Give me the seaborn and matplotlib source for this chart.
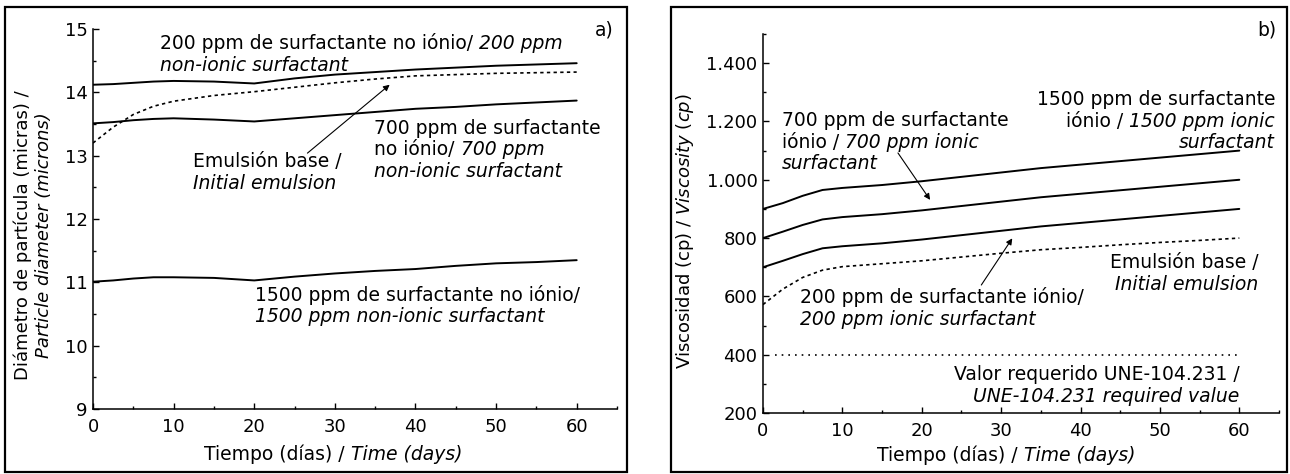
import matplotlib
matplotlib.use("Agg")
import matplotlib.pyplot as plt
import seaborn as sns
import pandas as pd
from matplotlib.patches import Rectangle
from matplotlib.ticker import MultipleLocator, FuncFormatter

# datos
dias = [0, 2.5, 5, 7.5, 10, 15, 20, 25, 30, 35, 40, 45, 50, 55, 60]

diam_200 = [14.12, 14.13, 14.15, 14.17, 14.18, 14.17, 14.14, 14.22, 14.28, 14.32, 14.36, 14.39, 14.42, 14.44, 14.46]
diam_base = [13.20, 13.45, 13.65, 13.78, 13.86, 13.95, 14.01, 14.08, 14.15, 14.21, 14.26, 14.28, 14.30, 14.31, 14.32]
diam_700 = [13.51, 13.53, 13.56, 13.58, 13.59, 13.57, 13.54, 13.59, 13.64, 13.69, 13.74, 13.77, 13.81, 13.84, 13.87]
diam_1500 = [11.01, 11.03, 11.06, 11.08, 11.08, 11.07, 11.03, 11.09, 11.14, 11.18, 11.21, 11.26, 11.30, 11.32, 11.35]

visc_1500 = [900, 920, 945, 965, 972, 982, 995, 1010, 1025, 1040, 1052, 1064, 1076, 1088, 1100]
visc_700 = [800, 822, 845, 864, 872, 882, 895, 910, 925, 940, 952, 964, 976, 988, 1000]
visc_200 = [700, 722, 745, 765, 772, 782, 795, 810, 825, 840, 852, 864, 876, 888, 900]
visc_base = [572, 625, 665, 690, 702, 712, 722, 735, 748, 760, 768, 777, 785, 792, 800]
req_dias = [1.5, 60]
req_visc = [400, 400]

FS = 13.5
FS_TICK = 13
LINE_PT = 15.6
GAP = 4.3

sns.set_style("ticks")
plt.rcParams["font.family"] = ["DejaVu Sans"]
plt.rcParams["font.size"] = FS
plt.rcParams["text.color"] = "k"
plt.rcParams["axes.labelcolor"] = "k"

fig = plt.figure(figsize=(12.9, 4.74), dpi=100)
W, H = 1290, 474


def px_rect(x0, y0, x1, y1):
    return [x0 / W, (H - y1) / H, (x1 - x0) / W, (y1 - y0) / H]


ax1 = fig.add_axes(px_rect(93, 29, 617, 409))
ax2 = fig.add_axes(px_rect(763, 34, 1279, 413))


def linea(ax, x, y, ls="-", lw=1.4):
    sns.lineplot(x=x, y=y, ax=ax, color="k", lw=lw, linestyle=ls)


def rich(ax, x, y, lines, right=False, coords="data"):
    for i, parts in enumerate(lines):
        seq = parts[::-1] if right else parts
        prev = None
        for txt, it in seq:
            st = "italic" if it else "normal"
            if prev is None:
                prev = ax.annotate(txt, xy=(x, y), xycoords=coords,
                                   xytext=(0, -i * LINE_PT),
                                   textcoords="offset points",
                                   ha="right" if right else "left",
                                   va="baseline", fontstyle=st, fontsize=FS,
                                   color="k", annotation_clip=False)
            else:
                prev = ax.annotate(txt, xy=(0 if right else 1, 0), xycoords=prev,
                                   xytext=(-GAP if right else GAP, 0),
                                   textcoords="offset points",
                                   ha="right" if right else "left",
                                   va="bottom", fontstyle=st, fontsize=FS,
                                   color="k", annotation_clip=False)


def flecha(ax, tail, head):
    ax.annotate("", xy=head, xytext=tail,
                arrowprops=dict(arrowstyle="-|>", color="k", lw=0.8,
                                mutation_scale=9, shrinkA=0, shrinkB=0))


# a) diametro
linea(ax1, dias, diam_200)
linea(ax1, dias, diam_base, ls=(0, (2, 2)), lw=1.2)
linea(ax1, dias, diam_700)
linea(ax1, dias, diam_1500)

ax1.set_xlim(0, 65)
ax1.set_ylim(9, 15)
ax1.yaxis.set_major_locator(MultipleLocator(1))
ax1.yaxis.set_minor_locator(MultipleLocator(0.5))

rich(ax1, 8.3, 14.68, [[("200 ppm de surfactante no iónio/", False), ("200 ppm", True)],
                       [("non-ionic surfactant", True)]])
rich(ax1, 34.9, 13.35, [[("700 ppm de surfactante", False)],
                        [("no iónio/", False), ("700 ppm", True)],
                        [("non-ionic surfactant", True)]])
rich(ax1, 12.4, 12.82, [[("Emulsión base /", False)],
                        [("Initial emulsion", True)]])
rich(ax1, 20.1, 10.71, [[("1500 ppm de surfactante no iónio/", False)],
                        [("1500 ppm non-ionic surfactant", True)]])
flecha(ax1, (26.6, 13.04), (36.8, 14.12))

# b) viscosidad
linea(ax2, dias, visc_1500)
linea(ax2, dias, visc_700)
linea(ax2, dias, visc_200)
linea(ax2, dias, visc_base, ls=(0, (2, 2)), lw=1.2)
linea(ax2, req_dias, req_visc, ls=(0, (1, 3)), lw=1.2)

ax2.set_xlim(0, 65)
ax2.set_ylim(200, 1500)
ax2.yaxis.set_major_locator(MultipleLocator(200))
ax2.yaxis.set_minor_locator(MultipleLocator(100))
ax2.yaxis.set_major_formatter(FuncFormatter(lambda v, p: f"{v:,.0f}".replace(",", ".")))

rich(ax2, 2.36, 1185, [[("700 ppm de surfactante", False)],
                       [("iónio /", False), ("700 ppm ionic", True)],
                       [("surfactant", True)]])
rich(ax2, 64.5, 1257, [[("1500 ppm de surfactante", False)],
                       [("iónio /", False), ("1500 ppm ionic", True)],
                       [("surfactant", True)]], right=True)
rich(ax2, 62.4, 696, [[("Emulsión base /", False)],
                      [("Initial emulsion", True)]], right=True)
rich(ax2, 4.7, 576, [[("200 ppm de surfactante iónio/", False)],
                     [("200 ppm ionic surfactant", True)]])
rich(ax2, 60, 313, [[("Valor requerido UNE-104.231 /", False)],
                    [("UNE-104.231 required value", True)]], right=True)
flecha(ax2, (17.0, 1092), (21.05, 931))
flecha(ax2, (27.5, 639), (31.4, 799))

for ax in (ax1, ax2):
    sns.despine(ax=ax)
    ax.xaxis.set_major_locator(MultipleLocator(10))
    ax.xaxis.set_minor_locator(MultipleLocator(5))
    ax.tick_params(which="both", direction="in", width=1, colors="k", labelsize=FS_TICK)
    ax.tick_params(which="major", length=4.5)
    ax.tick_params(which="minor", length=2.5)
    ax.tick_params(axis="x", pad=6.5)
    ax.tick_params(axis="y", pad=4)
    for s in ("left", "bottom"):
        ax.spines[s].set_linewidth(1.1)
        ax.spines[s].set_color("k")
    ax.set_xlabel("")
    ax.set_ylabel("")

# titulos de los ejes
rich(ax1, 204 / W, 1 - 460 / H, [[("Tiempo (días) /", False), ("Time (days)", True)]],
     coords="figure fraction")
rich(ax2, 877 / W, 1 - 461 / H, [[("Tiempo (días) /", False), ("Time (days)", True)]],
     coords="figure fraction")

fig.text(23 / W, 1 - 235 / H, "Diámetro de partícula (micras) /", rotation=90,
         ha="center", va="center", fontsize=13, color="k")
fig.text(44 / W, 1 - 235 / H, "Particle diameter (microns)", rotation=90,
         ha="center", va="center", fontsize=13, fontstyle="italic", color="k")
fig.text(685 / W, 1 - 231 / H, "Viscosidad (cp) / $\\mathit{Viscosity\\ (cp)}$",
         rotation=90, ha="center", va="center", fontsize=13, color="k")

fig.text(595 / W, 1 - 36 / H, "a)", fontsize=FS, va="baseline", color="k")
fig.text(1257 / W, 1 - 36 / H, "b)", fontsize=FS, va="baseline", color="k")

for x0, x1 in ((5, 627), (671, 1287)):
    fig.patches.append(Rectangle((x0 / W, 2 / H), (x1 - x0) / W, (472 - 7) / H,
                                 transform=fig.transFigure, fill=False,
                                 lw=1.6, ec="k"))

fig.savefig("out.png", dpi=100)
